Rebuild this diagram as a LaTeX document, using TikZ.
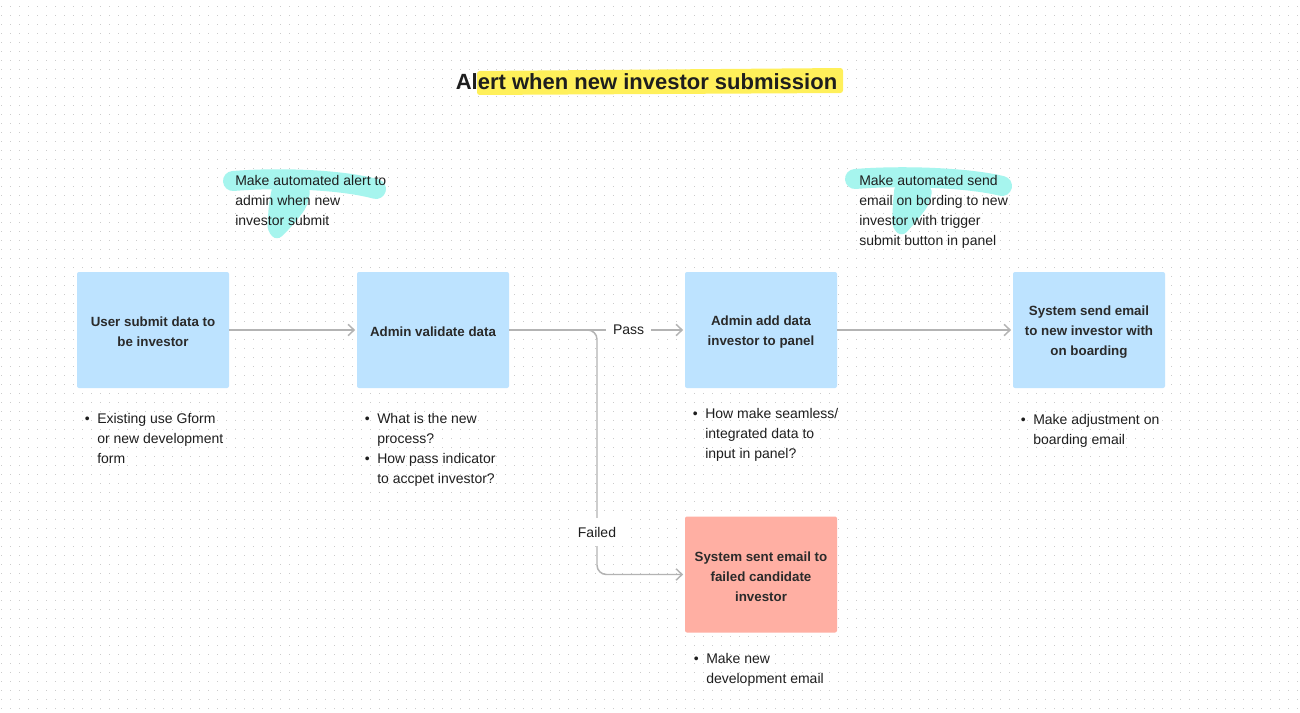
\documentclass[tikz,border=0pt]{standalone}
\usepackage{fontspec}
\setmainfont{Liberation Sans}
\usetikzlibrary{arrows.meta}
\definecolor{boxblue}{HTML}{BDE3FF}
\definecolor{boxred}{HTML}{FFAFA3}
\definecolor{txt}{HTML}{1E1E1E}
\definecolor{boxtxt}{HTML}{2A2A2A}
\definecolor{linegray}{HTML}{B3B3B3}
\definecolor{hlyellow}{HTML}{FFF05A}
\definecolor{hlcyan}{HTML}{A6F5EE}
\definecolor{dotgray}{HTML}{CBCBCB}
\newcommand{\topfix}{\rule{0pt}{10.3pt}}
\begin{document}
\begin{tikzpicture}[x=0.75pt,y=-0.75pt,
  stepbox/.style={rectangle, rounded corners=1.5pt, minimum width=114pt, minimum height=87pt,
    inner sep=0pt, align=center, text=boxtxt, font=\bfseries\fontsize{10}{15}\selectfont},
  bluebox/.style={stepbox, fill=boxblue},
  redbox/.style={stepbox, fill=boxred},
  link/.style={draw=linegray, line width=1.1pt, -{Straight Barb[length=4.5pt,width=8.5pt,line width=1.1pt]}, shorten >=1.2pt},
  plabel/.style={fill=white, text=txt, inner xsep=5pt, inner ysep=7pt, font=\fontsize{10.5}{12}\selectfont},
  bodytext/.style={anchor=base west, inner sep=0pt, text=txt, font=\fontsize{10.5}{15}\selectfont},
  titletext/.style={anchor=base, inner sep=0pt, text=txt, font=\bfseries\fontsize{16.5}{20}\selectfont},
  hl/.style={draw=hlcyan, line cap=round, line join=round},
  hlfill/.style={fill=hlcyan, rounded corners=5pt},
  dotrow/.style={draw=dotgray, line width=1pt, dash pattern=on 0.8pt off 5.95pt}
]
\useasboundingbox (0,0) rectangle (1300,713);
\fill[white] (0,0) rectangle (1300,713);
% dot grid
\foreach \k in {0,...,78}{
  \draw[dotrow] (1.2,{6.7+9*\k}) -- (1300,{6.7+9*\k});
}
% title highlight
\fill[hlyellow, rounded corners=2pt] (477,71) -- (843,68) -- (843,93) -- (477,95) -- cycle;
\node[titletext] (title) at (646.5,89.5) {Alert when new investor submission};
% scribbles
\begin{scope}[shift={(233,181)}]
  \draw[hl, line width=15pt] (0,0) .. controls (50,-4) and (110,-1) .. (143,8);
  \fill[hlfill] (40,2) -- (78,6) -- (74,26) -- (60,44) -- (44,60) -- (34,50) -- (36,22) -- cycle;
\end{scope}
\begin{scope}[shift={(855,179)}]
  \draw[hl, line width=15pt] (0,0) .. controls (50,-4) and (115,-1) .. (147,7);
  \fill[hlfill] (40,4) -- (78,8) -- (74,26) -- (60,44) -- (47,58) -- (37,49) -- (38,22) -- cycle;
\end{scope}
% annotations
\node[bodytext] (note1) at (235,185.5) {\begin{tabular}[t]{@{}l@{}}Make automated alert to\\ admin when new\\ investor submit\end{tabular}};
\node[bodytext] (note2) at (859,185.5) {\begin{tabular}[t]{@{}l@{}}Make automated send\\ email on bording to new\\ investor with trigger\\ submit button in panel\end{tabular}};
% boxes
\node[bluebox] (b1) at (153,330) {\topfix User submit data to\\ be investor};
\node[bluebox] (b2) at (433,330) {\topfix Admin validate data};
\node[bluebox] (b3) at (761,330) {\topfix Admin add data\\ investor to panel};
\node[bluebox] (b4) at (1089,330) {\topfix System send email\\ to new investor with\\ on boarding};
\node[redbox] (b5) at (761,574.5) {\topfix System sent email to\\ failed candidate\\ investor};
% connectors
\coordinate (split) at (597,330);
\coordinate (fcorner) at (597,574.5);
\draw[link] (b1) -- (b2);
\draw[link, rounded corners=7pt] (b2.east) -- (split) -- (fcorner) -- (b5.west);
\draw[link] (b2) -- node[plabel, pos=0.68] (pass) {Pass} (b3);
\draw[link] (b3) -- (b4);
\node[plabel] (failed) at (597,532) {Failed};
% bullet lists
\node[bodytext] (l1) at (84.5,423) {\begin{tabular}[t]{@{}l@{\hspace{5.7pt}}l@{}}\textbullet & Existing use Gform\\ & or new development\\ & form\end{tabular}};
\node[bodytext] (l2) at (364.5,423) {\begin{tabular}[t]{@{}l@{\hspace{5.7pt}}l@{}}\textbullet & What is the new\\ & process?\\ \textbullet & How pass indicator\\ & to accpet investor?\end{tabular}};
\node[bodytext] (l3) at (692.5,418) {\begin{tabular}[t]{@{}l@{\hspace{5.7pt}}l@{}}\textbullet & How make seamless/\\ & integrated data to\\ & input in panel?\end{tabular}};
\node[bodytext] (l4) at (1020.5,424) {\begin{tabular}[t]{@{}l@{\hspace{5.7pt}}l@{}}\textbullet & Make adjustment on\\ & boarding email\end{tabular}};
\node[bodytext] (l5) at (693.5,663) {\begin{tabular}[t]{@{}l@{\hspace{5.7pt}}l@{}}\textbullet & Make new\\ & development email\end{tabular}};
\end{tikzpicture}
\end{document}
